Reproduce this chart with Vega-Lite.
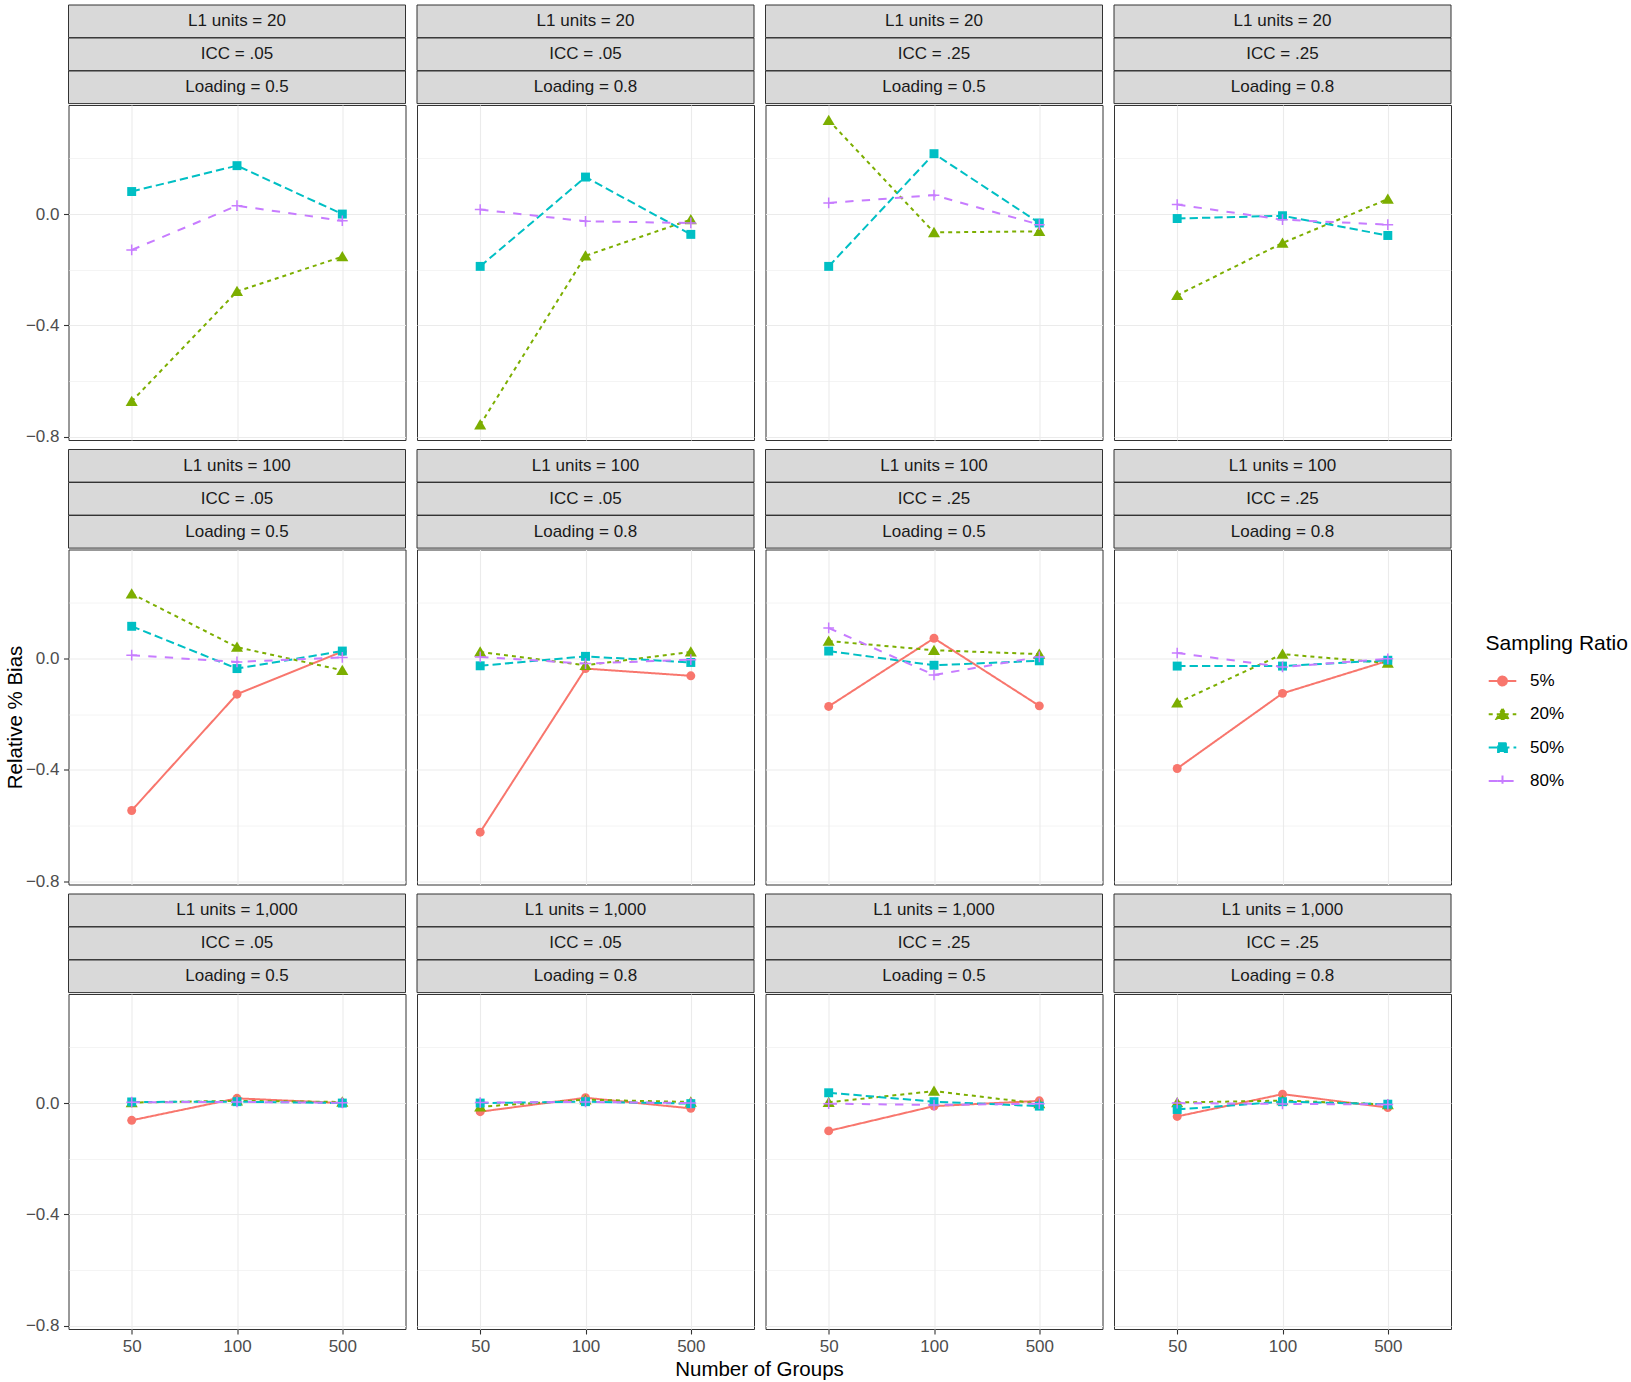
{
  "$schema": "https://vega.github.io/schema/vega-lite/v6.json",
  "background": "white",
  "padding": {"left": 4.5, "top": 4, "right": 0, "bottom": 0},
  "datasets": {
    "strips": [
      {"L1": "20", "col": 1, "level": 1, "label": "L1 units = 20"},
      {"L1": "20", "col": 2, "level": 1, "label": "L1 units = 20"},
      {"L1": "20", "col": 3, "level": 1, "label": "L1 units = 20"},
      {"L1": "20", "col": 4, "level": 1, "label": "L1 units = 20"},
      {"L1": "20", "col": 1, "level": 2, "label": "ICC = .05"},
      {"L1": "20", "col": 2, "level": 2, "label": "ICC = .05"},
      {"L1": "20", "col": 3, "level": 2, "label": "ICC = .25"},
      {"L1": "20", "col": 4, "level": 2, "label": "ICC = .25"},
      {"L1": "20", "col": 1, "level": 3, "label": "Loading = 0.5"},
      {"L1": "20", "col": 2, "level": 3, "label": "Loading = 0.8"},
      {"L1": "20", "col": 3, "level": 3, "label": "Loading = 0.5"},
      {"L1": "20", "col": 4, "level": 3, "label": "Loading = 0.8"},
      {"L1": "100", "col": 1, "level": 1, "label": "L1 units = 100"},
      {"L1": "100", "col": 2, "level": 1, "label": "L1 units = 100"},
      {"L1": "100", "col": 3, "level": 1, "label": "L1 units = 100"},
      {"L1": "100", "col": 4, "level": 1, "label": "L1 units = 100"},
      {"L1": "100", "col": 1, "level": 2, "label": "ICC = .05"},
      {"L1": "100", "col": 2, "level": 2, "label": "ICC = .05"},
      {"L1": "100", "col": 3, "level": 2, "label": "ICC = .25"},
      {"L1": "100", "col": 4, "level": 2, "label": "ICC = .25"},
      {"L1": "100", "col": 1, "level": 3, "label": "Loading = 0.5"},
      {"L1": "100", "col": 2, "level": 3, "label": "Loading = 0.8"},
      {"L1": "100", "col": 3, "level": 3, "label": "Loading = 0.5"},
      {"L1": "100", "col": 4, "level": 3, "label": "Loading = 0.8"},
      {"L1": "1,000", "col": 1, "level": 1, "label": "L1 units = 1,000"},
      {"L1": "1,000", "col": 2, "level": 1, "label": "L1 units = 1,000"},
      {"L1": "1,000", "col": 3, "level": 1, "label": "L1 units = 1,000"},
      {"L1": "1,000", "col": 4, "level": 1, "label": "L1 units = 1,000"},
      {"L1": "1,000", "col": 1, "level": 2, "label": "ICC = .05"},
      {"L1": "1,000", "col": 2, "level": 2, "label": "ICC = .05"},
      {"L1": "1,000", "col": 3, "level": 2, "label": "ICC = .25"},
      {"L1": "1,000", "col": 4, "level": 2, "label": "ICC = .25"},
      {"L1": "1,000", "col": 1, "level": 3, "label": "Loading = 0.5"},
      {"L1": "1,000", "col": 2, "level": 3, "label": "Loading = 0.8"},
      {"L1": "1,000", "col": 3, "level": 3, "label": "Loading = 0.5"},
      {"L1": "1,000", "col": 4, "level": 3, "label": "Loading = 0.8"}
    ],
    "bias": [
      {"L1": "20", "col": 1, "groups": 50, "ratio": "20%", "bias": -0.673},
      {"L1": "20", "col": 1, "groups": 100, "ratio": "20%", "bias": -0.278},
      {"L1": "20", "col": 1, "groups": 500, "ratio": "20%", "bias": -0.153},
      {"L1": "20", "col": 1, "groups": 50, "ratio": "50%", "bias": 0.081},
      {"L1": "20", "col": 1, "groups": 100, "ratio": "50%", "bias": 0.174},
      {"L1": "20", "col": 1, "groups": 500, "ratio": "50%", "bias": 0.0},
      {"L1": "20", "col": 1, "groups": 50, "ratio": "80%", "bias": -0.129},
      {"L1": "20", "col": 1, "groups": 100, "ratio": "80%", "bias": 0.030},
      {"L1": "20", "col": 1, "groups": 500, "ratio": "80%", "bias": -0.024},
      {"L1": "20", "col": 2, "groups": 50, "ratio": "20%", "bias": -0.757},
      {"L1": "20", "col": 2, "groups": 100, "ratio": "20%", "bias": -0.150},
      {"L1": "20", "col": 2, "groups": 500, "ratio": "20%", "bias": -0.020},
      {"L1": "20", "col": 2, "groups": 50, "ratio": "50%", "bias": -0.188},
      {"L1": "20", "col": 2, "groups": 100, "ratio": "50%", "bias": 0.133},
      {"L1": "20", "col": 2, "groups": 500, "ratio": "50%", "bias": -0.073},
      {"L1": "20", "col": 2, "groups": 50, "ratio": "80%", "bias": 0.016},
      {"L1": "20", "col": 2, "groups": 100, "ratio": "80%", "bias": -0.026},
      {"L1": "20", "col": 2, "groups": 500, "ratio": "80%", "bias": -0.032},
      {"L1": "20", "col": 3, "groups": 50, "ratio": "20%", "bias": 0.337},
      {"L1": "20", "col": 3, "groups": 100, "ratio": "20%", "bias": -0.066},
      {"L1": "20", "col": 3, "groups": 500, "ratio": "20%", "bias": -0.062},
      {"L1": "20", "col": 3, "groups": 50, "ratio": "50%", "bias": -0.188},
      {"L1": "20", "col": 3, "groups": 100, "ratio": "50%", "bias": 0.217},
      {"L1": "20", "col": 3, "groups": 500, "ratio": "50%", "bias": -0.032},
      {"L1": "20", "col": 3, "groups": 50, "ratio": "80%", "bias": 0.040},
      {"L1": "20", "col": 3, "groups": 100, "ratio": "80%", "bias": 0.068},
      {"L1": "20", "col": 3, "groups": 500, "ratio": "80%", "bias": -0.038},
      {"L1": "20", "col": 4, "groups": 50, "ratio": "20%", "bias": -0.292},
      {"L1": "20", "col": 4, "groups": 100, "ratio": "20%", "bias": -0.104},
      {"L1": "20", "col": 4, "groups": 500, "ratio": "20%", "bias": 0.054},
      {"L1": "20", "col": 4, "groups": 50, "ratio": "50%", "bias": -0.016},
      {"L1": "20", "col": 4, "groups": 100, "ratio": "50%", "bias": -0.006},
      {"L1": "20", "col": 4, "groups": 500, "ratio": "50%", "bias": -0.077},
      {"L1": "20", "col": 4, "groups": 50, "ratio": "80%", "bias": 0.034},
      {"L1": "20", "col": 4, "groups": 100, "ratio": "80%", "bias": -0.020},
      {"L1": "20", "col": 4, "groups": 500, "ratio": "80%", "bias": -0.038},
      {"L1": "100", "col": 1, "groups": 50, "ratio": "5%", "bias": -0.546},
      {"L1": "100", "col": 1, "groups": 100, "ratio": "5%", "bias": -0.128},
      {"L1": "100", "col": 1, "groups": 500, "ratio": "5%", "bias": 0.025},
      {"L1": "100", "col": 1, "groups": 50, "ratio": "20%", "bias": 0.233},
      {"L1": "100", "col": 1, "groups": 100, "ratio": "20%", "bias": 0.041},
      {"L1": "100", "col": 1, "groups": 500, "ratio": "20%", "bias": -0.042},
      {"L1": "100", "col": 1, "groups": 50, "ratio": "50%", "bias": 0.116},
      {"L1": "100", "col": 1, "groups": 100, "ratio": "50%", "bias": -0.036},
      {"L1": "100", "col": 1, "groups": 500, "ratio": "50%", "bias": 0.027},
      {"L1": "100", "col": 1, "groups": 50, "ratio": "80%", "bias": 0.012},
      {"L1": "100", "col": 1, "groups": 100, "ratio": "80%", "bias": -0.012},
      {"L1": "100", "col": 1, "groups": 500, "ratio": "80%", "bias": 0.004},
      {"L1": "100", "col": 2, "groups": 50, "ratio": "5%", "bias": -0.624},
      {"L1": "100", "col": 2, "groups": 100, "ratio": "5%", "bias": -0.036},
      {"L1": "100", "col": 2, "groups": 500, "ratio": "5%", "bias": -0.062},
      {"L1": "100", "col": 2, "groups": 50, "ratio": "20%", "bias": 0.024},
      {"L1": "100", "col": 2, "groups": 100, "ratio": "20%", "bias": -0.024},
      {"L1": "100", "col": 2, "groups": 500, "ratio": "20%", "bias": 0.024},
      {"L1": "100", "col": 2, "groups": 50, "ratio": "50%", "bias": -0.026},
      {"L1": "100", "col": 2, "groups": 100, "ratio": "50%", "bias": 0.008},
      {"L1": "100", "col": 2, "groups": 500, "ratio": "50%", "bias": -0.014},
      {"L1": "100", "col": 2, "groups": 50, "ratio": "80%", "bias": 0.006},
      {"L1": "100", "col": 2, "groups": 100, "ratio": "80%", "bias": -0.018},
      {"L1": "100", "col": 2, "groups": 500, "ratio": "80%", "bias": -0.004},
      {"L1": "100", "col": 3, "groups": 50, "ratio": "5%", "bias": -0.172},
      {"L1": "100", "col": 3, "groups": 100, "ratio": "5%", "bias": 0.073},
      {"L1": "100", "col": 3, "groups": 500, "ratio": "5%", "bias": -0.170},
      {"L1": "100", "col": 3, "groups": 50, "ratio": "20%", "bias": 0.063},
      {"L1": "100", "col": 3, "groups": 100, "ratio": "20%", "bias": 0.030},
      {"L1": "100", "col": 3, "groups": 500, "ratio": "20%", "bias": 0.016},
      {"L1": "100", "col": 3, "groups": 50, "ratio": "50%", "bias": 0.027},
      {"L1": "100", "col": 3, "groups": 100, "ratio": "50%", "bias": -0.024},
      {"L1": "100", "col": 3, "groups": 500, "ratio": "50%", "bias": -0.008},
      {"L1": "100", "col": 3, "groups": 50, "ratio": "80%", "bias": 0.110},
      {"L1": "100", "col": 3, "groups": 100, "ratio": "80%", "bias": -0.059},
      {"L1": "100", "col": 3, "groups": 500, "ratio": "80%", "bias": 0.006},
      {"L1": "100", "col": 4, "groups": 50, "ratio": "5%", "bias": -0.395},
      {"L1": "100", "col": 4, "groups": 100, "ratio": "5%", "bias": -0.125},
      {"L1": "100", "col": 4, "groups": 500, "ratio": "5%", "bias": -0.008},
      {"L1": "100", "col": 4, "groups": 50, "ratio": "20%", "bias": -0.159},
      {"L1": "100", "col": 4, "groups": 100, "ratio": "20%", "bias": 0.016},
      {"L1": "100", "col": 4, "groups": 500, "ratio": "20%", "bias": -0.016},
      {"L1": "100", "col": 4, "groups": 50, "ratio": "50%", "bias": -0.027},
      {"L1": "100", "col": 4, "groups": 100, "ratio": "50%", "bias": -0.027},
      {"L1": "100", "col": 4, "groups": 500, "ratio": "50%", "bias": -0.006},
      {"L1": "100", "col": 4, "groups": 50, "ratio": "80%", "bias": 0.020},
      {"L1": "100", "col": 4, "groups": 100, "ratio": "80%", "bias": -0.030},
      {"L1": "100", "col": 4, "groups": 500, "ratio": "80%", "bias": -0.001},
      {"L1": "1,000", "col": 1, "groups": 50, "ratio": "5%", "bias": -0.062},
      {"L1": "1,000", "col": 1, "groups": 100, "ratio": "5%", "bias": 0.017},
      {"L1": "1,000", "col": 1, "groups": 500, "ratio": "5%", "bias": 0.0},
      {"L1": "1,000", "col": 1, "groups": 50, "ratio": "20%", "bias": 0.002},
      {"L1": "1,000", "col": 1, "groups": 100, "ratio": "20%", "bias": 0.008},
      {"L1": "1,000", "col": 1, "groups": 500, "ratio": "20%", "bias": 0.004},
      {"L1": "1,000", "col": 1, "groups": 50, "ratio": "50%", "bias": 0.004},
      {"L1": "1,000", "col": 1, "groups": 100, "ratio": "50%", "bias": 0.005},
      {"L1": "1,000", "col": 1, "groups": 500, "ratio": "50%", "bias": 0.0},
      {"L1": "1,000", "col": 1, "groups": 50, "ratio": "80%", "bias": 0.003},
      {"L1": "1,000", "col": 1, "groups": 100, "ratio": "80%", "bias": 0.004},
      {"L1": "1,000", "col": 1, "groups": 500, "ratio": "80%", "bias": 0.001},
      {"L1": "1,000", "col": 2, "groups": 50, "ratio": "5%", "bias": -0.031},
      {"L1": "1,000", "col": 2, "groups": 100, "ratio": "5%", "bias": 0.019},
      {"L1": "1,000", "col": 2, "groups": 500, "ratio": "5%", "bias": -0.019},
      {"L1": "1,000", "col": 2, "groups": 50, "ratio": "20%", "bias": -0.013},
      {"L1": "1,000", "col": 2, "groups": 100, "ratio": "20%", "bias": 0.012},
      {"L1": "1,000", "col": 2, "groups": 500, "ratio": "20%", "bias": 0.004},
      {"L1": "1,000", "col": 2, "groups": 50, "ratio": "50%", "bias": 0.0},
      {"L1": "1,000", "col": 2, "groups": 100, "ratio": "50%", "bias": 0.005},
      {"L1": "1,000", "col": 2, "groups": 500, "ratio": "50%", "bias": -0.002},
      {"L1": "1,000", "col": 2, "groups": 50, "ratio": "80%", "bias": 0.002},
      {"L1": "1,000", "col": 2, "groups": 100, "ratio": "80%", "bias": 0.004},
      {"L1": "1,000", "col": 2, "groups": 500, "ratio": "80%", "bias": 0.0},
      {"L1": "1,000", "col": 3, "groups": 50, "ratio": "5%", "bias": -0.100},
      {"L1": "1,000", "col": 3, "groups": 100, "ratio": "5%", "bias": -0.011},
      {"L1": "1,000", "col": 3, "groups": 500, "ratio": "5%", "bias": 0.008},
      {"L1": "1,000", "col": 3, "groups": 50, "ratio": "20%", "bias": 0.003},
      {"L1": "1,000", "col": 3, "groups": 100, "ratio": "20%", "bias": 0.043},
      {"L1": "1,000", "col": 3, "groups": 500, "ratio": "20%", "bias": -0.002},
      {"L1": "1,000", "col": 3, "groups": 50, "ratio": "50%", "bias": 0.037},
      {"L1": "1,000", "col": 3, "groups": 100, "ratio": "50%", "bias": 0.005},
      {"L1": "1,000", "col": 3, "groups": 500, "ratio": "50%", "bias": -0.011},
      {"L1": "1,000", "col": 3, "groups": 50, "ratio": "80%", "bias": -0.002},
      {"L1": "1,000", "col": 3, "groups": 100, "ratio": "80%", "bias": -0.007},
      {"L1": "1,000", "col": 3, "groups": 500, "ratio": "80%", "bias": -0.002},
      {"L1": "1,000", "col": 4, "groups": 50, "ratio": "5%", "bias": -0.048},
      {"L1": "1,000", "col": 4, "groups": 100, "ratio": "5%", "bias": 0.032},
      {"L1": "1,000", "col": 4, "groups": 500, "ratio": "5%", "bias": -0.016},
      {"L1": "1,000", "col": 4, "groups": 50, "ratio": "20%", "bias": 0.002},
      {"L1": "1,000", "col": 4, "groups": 100, "ratio": "20%", "bias": 0.009},
      {"L1": "1,000", "col": 4, "groups": 500, "ratio": "20%", "bias": -0.005},
      {"L1": "1,000", "col": 4, "groups": 50, "ratio": "50%", "bias": -0.023},
      {"L1": "1,000", "col": 4, "groups": 100, "ratio": "50%", "bias": 0.005},
      {"L1": "1,000", "col": 4, "groups": 500, "ratio": "50%", "bias": -0.004},
      {"L1": "1,000", "col": 4, "groups": 50, "ratio": "80%", "bias": 0.0},
      {"L1": "1,000", "col": 4, "groups": 100, "ratio": "80%", "bias": -0.003},
      {"L1": "1,000", "col": 4, "groups": 500, "ratio": "80%", "bias": -0.005}
    ]
  },
  "vconcat": [
    {
      "spacing": -3,
      "vconcat": [
        {
          "data": {"name": "strips"},
          "transform": [{"filter": "datum.L1 === '20'"}],
          "bounds": "flush",
          "facet": {
            "row": {"field": "level", "type": "ordinal", "title": null, "header": {"labels": false}},
            "column": {"field": "col", "type": "ordinal", "title": null, "header": {"labels": false}}
          },
          "spacing": {"row": 0, "column": 11.5},
          "spec": {
            "width": 337, "height": 32.6,
            "layer": [
              {"mark": {"type": "rect", "fill": "#d9d9d9", "stroke": "#333333", "strokeWidth": 1}},
              {"mark": {"type": "text", "fontSize": 17, "color": "#1a1a1a", "baseline": "middle", "font": "Liberation Sans"},
               "encoding": {"text": {"field": "label", "type": "nominal"}}}
            ]
          }
        },
        {
          "data": {"name": "bias"},
          "transform": [{"filter": "datum.L1 === '20'"}],
          "bounds": "flush",
          "facet": {"column": {"field": "col", "type": "ordinal", "title": null, "header": {"labels": false}}},
          "spacing": {"column": 11.5},
          "spec": {
            "width": 337, "height": 335,
            "encoding": {
              "x": {"field": "groups", "type": "ordinal", "scale": {"type": "point", "domain": [50, 100, 500], "padding": 0.6},
                    "axis": {"labels": false, "ticks": false, "domain": false, "title": null, "grid": true}},
              "y": {"field": "bias", "type": "quantitative", "scale": {"domain": [-0.812, 0.392], "nice": false, "zero": false},
                    "axis": {"title": null, "values": [-0.8, -0.6, -0.4, -0.2, 0, 0.2],
                             "labelExpr": "round(datum.value*10) % 4 == 0 ? replace(format(datum.value, '.1f'), '-', '\u2212') : ''",
                             "tickOpacity": {"condition": {"test": "round(datum.value*10) % 4 != 0", "value": 0}, "value": 1},
                             "gridWidth": {"condition": {"test": "round(datum.value*10) % 4 != 0", "value": 0.55}, "value": 1.1}}}
            },
            "layer": [
              {
                "mark": {"type": "line", "strokeWidth": 2},
                "encoding": {
                  "color": {"field": "ratio", "type": "nominal", "title": "Sampling Ratio",
                            "scale": {"domain": ["5%", "20%", "50%", "80%"], "range": ["#F8766D", "#7CAE00", "#00BFC4", "#C77CFF"]},
                            "legend": {
                              "orient": "none", "legendX": 1417, "legendY": 628, "padding": 0,
                              "titleFontSize": 21, "titleFontWeight": "normal", "titleColor": "black", "titlePadding": 12, "titleFont": "Liberation Sans",
                              "labelFontSize": 17, "labelColor": "black", "labelOffset": 12.5, "labelFont": "Liberation Sans",
                              "symbolSize": 760, "symbolOffset": 2, "rowPadding": 9.3,
                              "encode": {"symbols": {"update": {
                                "shape": {"signal": "datum.value === '5%' ? 'M-1,0H1M0.32,0A0.32,0.32,0,1,1,-0.32,0A0.32,0.32,0,1,1,0.32,0Z' : datum.value === '20%' ? 'M-1,0H1M0,-0.41L0.44,0.35L-0.44,0.35Z' : datum.value === '50%' ? 'M-1,0H1M-0.32,-0.32H0.32V0.32H-0.32Z' : 'M-1,0H1M-0.39,0H0.39M0,-0.39V0.39'"},
                                "fill": {"scale": "color", "field": "value"},
                                "stroke": {"scale": "color", "field": "value"},
                                "strokeWidth": {"value": 2},
                                "opacity": {"value": 1}
                              }}}
                            }},
                  "strokeDash": {"field": "ratio", "type": "nominal", "title": "Sampling Ratio",
                                 "scale": {"domain": ["5%", "20%", "50%", "80%"], "range": [[1, 0], [4, 4], [8.3, 4.1], [8.3, 8.3]]}}
                }
              },
              {
                "transform": [{"filter": "datum.ratio !== '80%'"}],
                "mark": {"type": "point", "filled": true, "size": 80, "opacity": 1},
                "encoding": {
                  "color": {"field": "ratio", "type": "nominal", "title": "Sampling Ratio"},
                  "shape": {"field": "ratio", "type": "nominal", "title": "Shape", "legend": null,
                            "scale": {"domain": ["80%", "50%", "20%", "5%"], "range": ["M-1.2,0H1.2M0,-1.2V1.2", "square", "M0,-1.25L1.35,1.05L-1.35,1.05Z", "circle"]}}
                }
              },
              {
                "transform": [{"filter": "datum.ratio === '80%'"}],
                "mark": {"type": "point", "filled": false, "size": 80, "strokeWidth": 1.5, "opacity": 1},
                "encoding": {
                  "color": {"field": "ratio", "type": "nominal", "title": "Sampling Ratio"},
                  "shape": {"field": "ratio", "type": "nominal", "title": "Shape", "legend": null}
                }
              }
            ]
          }
        }
      ]
    },
    {
      "spacing": -3,
      "vconcat": [
        {
          "data": {"name": "strips"},
          "transform": [{"filter": "datum.L1 === '100'"}],
          "bounds": "flush",
          "facet": {
            "row": {"field": "level", "type": "ordinal", "title": null, "header": {"labels": false}},
            "column": {"field": "col", "type": "ordinal", "title": null, "header": {"labels": false}}
          },
          "spacing": {"row": 0, "column": 11.5},
          "spec": {
            "width": 337, "height": 32.6,
            "layer": [
              {"mark": {"type": "rect", "fill": "#d9d9d9", "stroke": "#333333", "strokeWidth": 1}},
              {"mark": {"type": "text", "fontSize": 17, "color": "#1a1a1a", "baseline": "middle", "font": "Liberation Sans"},
               "encoding": {"text": {"field": "label", "type": "nominal"}}}
            ]
          }
        },
        {
          "data": {"name": "bias"},
          "transform": [{"filter": "datum.L1 === '100'"}],
          "bounds": "flush",
          "facet": {"column": {"field": "col", "type": "ordinal", "title": null, "header": {"labels": false}}},
          "spacing": {"column": 11.5},
          "spec": {
            "width": 337, "height": 335,
            "encoding": {
              "x": {"field": "groups", "type": "ordinal", "scale": {"type": "point", "domain": [50, 100, 500], "padding": 0.6},
                    "axis": {"labels": false, "ticks": false, "domain": false, "title": null, "grid": true}},
              "y": {"field": "bias", "type": "quantitative", "scale": {"domain": [-0.812, 0.392], "nice": false, "zero": false},
                    "axis": {"title": "Relative % Bias", "titlePadding": 0, "values": [-0.8, -0.6, -0.4, -0.2, 0, 0.2],
                             "labelExpr": "round(datum.value*10) % 4 == 0 ? replace(format(datum.value, '.1f'), '-', '\u2212') : ''",
                             "tickOpacity": {"condition": {"test": "round(datum.value*10) % 4 != 0", "value": 0}, "value": 1},
                             "gridWidth": {"condition": {"test": "round(datum.value*10) % 4 != 0", "value": 0.55}, "value": 1.1}}}
            },
            "layer": [
              {
                "mark": {"type": "line", "strokeWidth": 2},
                "encoding": {
                  "color": {"field": "ratio", "type": "nominal", "title": "Sampling Ratio"},
                  "strokeDash": {"field": "ratio", "type": "nominal", "title": "Sampling Ratio"}
                }
              },
              {
                "transform": [{"filter": "datum.ratio !== '80%'"}],
                "mark": {"type": "point", "filled": true, "size": 80, "opacity": 1},
                "encoding": {
                  "color": {"field": "ratio", "type": "nominal", "title": "Sampling Ratio"},
                  "shape": {"field": "ratio", "type": "nominal", "title": "Shape", "legend": null}
                }
              },
              {
                "transform": [{"filter": "datum.ratio === '80%'"}],
                "mark": {"type": "point", "filled": false, "size": 80, "strokeWidth": 1.5, "opacity": 1},
                "encoding": {
                  "color": {"field": "ratio", "type": "nominal", "title": "Sampling Ratio"},
                  "shape": {"field": "ratio", "type": "nominal", "title": "Shape", "legend": null}
                }
              }
            ]
          }
        }
      ]
    },
    {
      "spacing": -3,
      "vconcat": [
        {
          "data": {"name": "strips"},
          "transform": [{"filter": "datum.L1 === '1,000'"}],
          "bounds": "flush",
          "facet": {
            "row": {"field": "level", "type": "ordinal", "title": null, "header": {"labels": false}},
            "column": {"field": "col", "type": "ordinal", "title": null, "header": {"labels": false}}
          },
          "spacing": {"row": 0, "column": 11.5},
          "spec": {
            "width": 337, "height": 32.6,
            "layer": [
              {"mark": {"type": "rect", "fill": "#d9d9d9", "stroke": "#333333", "strokeWidth": 1}},
              {"mark": {"type": "text", "fontSize": 17, "color": "#1a1a1a", "baseline": "middle", "font": "Liberation Sans"},
               "encoding": {"text": {"field": "label", "type": "nominal"}}}
            ]
          }
        },
        {
          "data": {"name": "bias"},
          "transform": [{"filter": "datum.L1 === '1,000'"}],
          "bounds": "flush",
          "facet": {"column": {"field": "col", "type": "ordinal", "title": "Number of Groups",
                               "header": {"labels": false, "titleOrient": "bottom", "titleFontSize": 20.5, "titleFontWeight": "normal", "titleColor": "black", "titleFont": "Liberation Sans", "titlePadding": -5}}},
          "spacing": {"column": 11.5},
          "spec": {
            "width": 337, "height": 335,
            "encoding": {
              "x": {"field": "groups", "type": "ordinal", "scale": {"type": "point", "domain": [50, 100, 500], "padding": 0.6},
                    "axis": {"title": null, "grid": true, "labelAngle": 0}},
              "y": {"field": "bias", "type": "quantitative", "scale": {"domain": [-0.812, 0.392], "nice": false, "zero": false},
                    "axis": {"title": null, "values": [-0.8, -0.6, -0.4, -0.2, 0, 0.2],
                             "labelExpr": "round(datum.value*10) % 4 == 0 ? replace(format(datum.value, '.1f'), '-', '\u2212') : ''",
                             "tickOpacity": {"condition": {"test": "round(datum.value*10) % 4 != 0", "value": 0}, "value": 1},
                             "gridWidth": {"condition": {"test": "round(datum.value*10) % 4 != 0", "value": 0.55}, "value": 1.1}}}
            },
            "layer": [
              {
                "mark": {"type": "line", "strokeWidth": 2},
                "encoding": {
                  "color": {"field": "ratio", "type": "nominal", "title": "Sampling Ratio"},
                  "strokeDash": {"field": "ratio", "type": "nominal", "title": "Sampling Ratio"}
                }
              },
              {
                "transform": [{"filter": "datum.ratio !== '80%'"}],
                "mark": {"type": "point", "filled": true, "size": 80, "opacity": 1},
                "encoding": {
                  "color": {"field": "ratio", "type": "nominal", "title": "Sampling Ratio"},
                  "shape": {"field": "ratio", "type": "nominal", "title": "Shape", "legend": null}
                }
              },
              {
                "transform": [{"filter": "datum.ratio === '80%'"}],
                "mark": {"type": "point", "filled": false, "size": 80, "strokeWidth": 1.5, "opacity": 1},
                "encoding": {
                  "color": {"field": "ratio", "type": "nominal", "title": "Sampling Ratio"},
                  "shape": {"field": "ratio", "type": "nominal", "title": "Shape", "legend": null}
                }
              }
            ]
          }
        }
      ]
    }
  ],
  "spacing": 3.5,
  "config": {
    "font": "Liberation Sans",
    "view": {"stroke": "#333333", "fill": "white"},
    "axis": {
      "labelFont": "Liberation Sans", "labelFontSize": 17, "labelColor": "#4d4d4d",
      "titleFont": "Liberation Sans", "titleFontSize": 20.5, "titleFontWeight": "normal", "titleColor": "black",
      "tickColor": "#333333", "tickSize": 5, "tickWidth": 1.1, "domain": false,
      "gridColor": "#ebebeb", "gridWidth": 1.1, "labelPadding": 4.5, "titlePadding": 3
    },
    "legend": {"titleFontWeight": "normal"}
  }
}
